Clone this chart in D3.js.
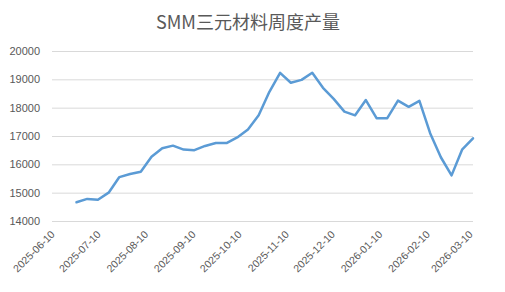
<!DOCTYPE html>
<html><head><meta charset="utf-8">
<script src="https://cdn.jsdelivr.net/npm/d3@7/dist/d3.min.js"></script>
<style>html,body{margin:0;padding:0;background:#fff;}svg{display:block;}</style>
</head><body>
<svg id="c" width="505" height="292"></svg>
<script>
const title = "SMM三元材料周度产量";
const startDate = "2025-06-26";
const values = [14660,14780,14750,15000,15550,15660,15740,16270,16570,16660,16520,16500,16650,16750,16750,16950,17230,17730,18560,19230,18880,18980,19230,18700,18310,17860,17730,18270,17630,17630,18250,18030,18240,17100,16250,15610,16530,16920];
const yTicks = [14000,15000,16000,17000,18000,19000,20000];
const xTickLabels = ["2025-06-10","2025-07-10","2025-08-10","2025-09-10","2025-10-10","2025-11-10","2025-12-10","2026-01-10","2026-02-10","2026-03-10"];
const xDomain = ["2025-06-10","2026-03-12"];

const parse = d3.utcParse("%Y-%m-%d");
const fmt = d3.utcFormat("%Y-%m-%d");
const t0 = parse(startDate);
const data = values.map((v,i)=>({date:d3.utcDay.offset(t0, i*7), value:v}));

const svg = d3.select("#c");
const L=52, R=473, T=51, B=221;
const x = d3.scaleUtc().domain(xDomain.map(parse)).range([L,R]);
const y = d3.scaleLinear().domain([14000,20000]).range([B,T]);

svg.append("text").attr("x",248).attr("y",29).attr("text-anchor","middle")
  .attr("font-family","'Noto Sans CJK SC','Noto Sans',sans-serif").attr("font-size",18)
  .attr("fill","#595959").text(title);

const ya = svg.append("g").attr("transform",`translate(${L},0)`)
  .call(d3.axisLeft(y).tickValues(yTicks).tickSize(-(R-L)).tickPadding(12).tickFormat(d3.format("d")));
ya.select(".domain").remove();
ya.selectAll(".tick line").attr("stroke","#d9d9d9").attr("stroke-width",1);
ya.selectAll(".tick text").attr("fill","#595959").attr("font-size",11)
  .attr("font-family","'Liberation Sans',Arial,sans-serif");

const xa = svg.append("g").attr("transform",`translate(0,${B})`)
  .call(d3.axisBottom(x).tickValues(xTickLabels.map(parse)).tickSize(0).tickFormat(fmt));
xa.select(".domain").remove();
xa.selectAll(".tick text").attr("fill","#595959").attr("font-size",10.5)
  .attr("font-family","'Liberation Sans',Arial,sans-serif")
  .attr("text-anchor","end").attr("dy",0).attr("y",0)
  .attr("transform","translate(3,14) rotate(-45)");

svg.append("path").datum(data)
  .attr("d", d3.line().x(d=>x(d.date)).y(d=>y(d.value)))
  .attr("fill","none").attr("stroke","#5b9bd5").attr("stroke-width",2.5)
  .attr("stroke-linejoin","round").attr("stroke-linecap","round");
</script>
</body></html>
